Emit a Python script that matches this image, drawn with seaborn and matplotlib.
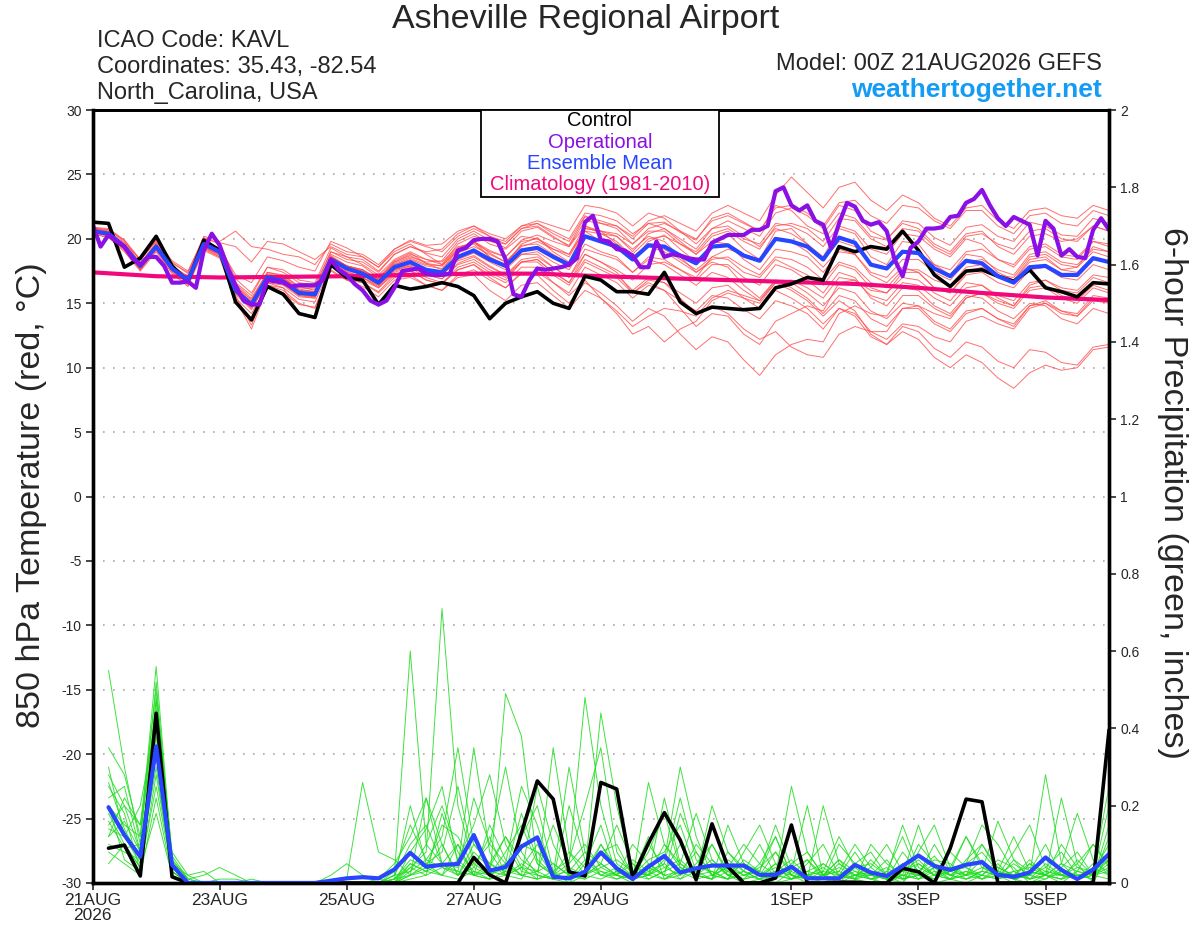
import numpy as np
import pandas as pd
import matplotlib
matplotlib.use("Agg")
import matplotlib.pyplot as plt
from matplotlib.patches import Rectangle
import seaborn as sns

sns.set_style("white")
plt.rcParams['font.family'] = ['Liberation Sans', 'DejaVu Sans']

# forecast hours
hours_6h = np.arange(0, 385, 6)
hours_3h = np.arange(0, 385, 3)
precip_hours = np.arange(6, 385, 6)

# 850 hPa temperature (C), 6-hourly
control_temp = [21.3, 21.2, 17.8, 18.5, 20.2, 17.9, 16.7, 19.9, 19.1, 15.1, 13.7, 16.3, 15.7,
                14.2, 13.9, 18.0, 17.0, 16.8, 14.9, 16.4, 16.1, 16.3, 16.6, 16.3, 15.6, 13.8,
                15.0, 15.5, 15.9, 15.0, 14.6, 17.1, 16.8, 15.9, 15.9, 15.7, 17.4, 15.1, 14.2,
                14.7, 14.6, 14.5, 14.6, 16.2, 16.5, 17.0, 16.8, 19.4, 19.0, 19.4, 19.2, 20.6,
                19.1, 17.2, 16.3, 17.5, 17.6, 17.1, 16.7, 17.6, 16.2, 15.9, 15.5, 16.6, 16.5]
mean_temp = [20.6, 20.4, 19.4, 17.9, 19.4, 17.7, 16.8, 19.6, 19.0, 16.0, 14.9, 17.0, 16.7,
             15.8, 15.7, 18.4, 17.7, 17.3, 16.6, 17.8, 18.2, 17.6, 17.4, 18.6, 19.1, 18.4,
             17.9, 19.1, 19.3, 18.6, 18.0, 20.2, 19.8, 19.4, 18.4, 19.5, 19.4, 18.7, 18.1,
             19.4, 19.5, 18.7, 18.3, 20.0, 19.8, 19.4, 18.4, 20.1, 19.7, 18.0, 17.7, 19.0,
             18.9, 17.7, 17.1, 18.3, 18.1, 17.1, 16.6, 17.8, 17.9, 17.2, 17.2, 18.5, 18.2]
# operational run, 3-hourly
oper_temp = [21.1, 19.4, 20.3, 19.8, 19.4, 18.5, 18.0, 18.6,
             18.6, 17.9, 16.6, 16.6, 16.7, 16.2, 19.1, 20.4,
             19.5, 17.8, 16.4, 15.2, 14.9, 14.9, 16.8, 16.7,
             16.6, 16.3, 16.4, 16.4, 16.4, 16.8, 18.4, 17.6,
             17.2, 16.5, 16.0, 15.2, 14.9, 15.2, 16.2, 17.5,
             17.6, 17.7, 17.3, 17.2, 17.2, 17.3, 19.1, 19.3,
             19.9, 20.0, 20.0, 19.8, 18.4, 15.7, 15.5, 16.8,
             17.7, 17.6, 17.7, 17.8, 18.0, 18.5, 21.3, 21.8,
             19.9, 19.8, 19.2, 19.1, 18.7, 17.8, 17.8, 19.8,
             18.6, 18.8, 18.7, 18.5, 18.4, 18.4, 19.7, 20.0,
             20.3, 20.3, 20.3, 20.7, 20.7, 21.0, 23.7, 24.0,
             22.6, 22.2, 22.6, 21.4, 21.1, 19.3, 21.2, 22.8,
             22.5, 21.4, 21.1, 21.3, 20.6, 18.4, 17.1, 19.3,
             19.8, 20.8, 20.8, 20.9, 21.7, 21.8, 22.8, 23.1,
             23.8, 22.6, 21.6, 21.0, 21.7, 21.4, 21.1, 18.7,
             21.4, 20.8, 18.7, 19.2, 18.6, 18.5, 20.7, 21.6,
             20.7]
# climatology, daily
clim_days = np.arange(17)
clim_temp = [17.4, 17.1, 17.0, 17.05, 17.1, 17.2, 17.3, 17.3, 17.1, 16.95, 16.8, 16.65,
             16.5, 16.2, 15.8, 15.45, 15.25]

member_temp = {
    'm01': [20.8, 20.7, 19.9, 18.3, 19.9, 18.2, 17.3, 20.1, 19.6, 16.9, 15.8, 17.8, 17.4,
            16.6, 16.4, 19.0, 18.6, 18.4, 17.5, 18.8, 19.4, 18.9, 18.6, 20.0, 20.6, 19.9,
            19.3, 20.6, 20.9, 20.1, 19.5, 21.7, 21.4, 21.0, 20.0, 21.2, 21.3, 20.5, 19.9,
            21.6, 22.0, 21.3, 20.6, 22.6, 22.2, 21.0, 20.4, 22.0, 21.6, 20.2, 19.9, 21.4,
            21.2, 20.1, 19.5, 20.9, 21.1, 20.2, 19.8, 21.3, 21.0, 20.3, 20.2, 21.6, 21.2],
    'm02': [20.4, 20.1, 19.0, 17.5, 19.0, 17.3, 16.3, 19.1, 18.5, 15.3, 13.0, 16.2, 15.8,
            14.9, 14.7, 17.5, 16.8, 16.3, 15.5, 16.8, 17.0, 16.4, 16.0, 17.2, 17.6, 16.8,
            16.2, 17.3, 17.4, 16.6, 15.8, 17.8, 17.2, 16.6, 15.4, 16.4, 16.0, 15.2, 14.4,
            15.6, 15.4, 14.5, 13.8, 15.2, 14.8, 14.2, 13.0, 14.6, 14.0, 12.4, 11.8, 13.2,
            12.8, 11.5, 10.8, 12.0, 11.6, 10.5, 10.0, 11.4, 11.2, 10.4, 10.2, 11.6, 11.8],
    'm03': [20.9, 20.5, 19.6, 17.6, 19.6, 17.9, 17.0, 19.3, 18.8, 16.4, 15.2, 17.4, 17.2,
            16.3, 16.0, 18.8, 18.2, 17.9, 17.0, 18.3, 18.9, 18.1, 17.6, 19.2, 19.8, 18.6,
            18.0, 19.6, 20.1, 19.0, 18.2, 20.8, 20.6, 19.6, 18.3, 19.8, 20.3, 19.2, 18.2,
            19.6, 20.4, 19.2, 18.4, 20.6, 20.8, 19.6, 18.6, 20.8, 20.4, 18.6, 18.0, 19.8,
            19.6, 18.0, 17.2, 18.8, 18.6, 17.4, 16.8, 18.4, 18.6, 17.6, 17.8, 19.4, 19.0],
    'm04': [20.5, 20.3, 19.2, 18.0, 19.2, 17.5, 16.6, 19.4, 19.3, 17.2, 16.6, 18.6, 18.3,
            17.8, 17.5, 19.8, 19.3, 18.6, 17.8, 19.0, 19.6, 18.8, 18.0, 19.3, 19.8, 18.9,
            18.2, 19.5, 19.6, 18.8, 18.1, 20.6, 20.4, 20.2, 19.0, 20.4, 20.8, 20.0, 19.2,
            20.8, 21.4, 20.8, 20.2, 22.0, 22.4, 21.8, 20.8, 22.6, 22.2, 20.6, 20.0, 21.2,
            20.8, 19.6, 19.0, 20.4, 20.6, 19.4, 18.8, 20.2, 20.4, 19.8, 20.0, 21.0, 20.6],
    'm05': [20.7, 20.2, 19.3, 17.8, 19.5, 17.6, 16.9, 19.5, 18.8, 15.4, 14.2, 16.4, 16.0,
            15.0, 14.6, 17.6, 16.8, 16.6, 15.9, 17.2, 17.5, 16.8, 16.5, 17.8, 18.2, 17.4,
            16.8, 18.2, 18.4, 17.4, 16.6, 18.8, 18.2, 17.4, 15.8, 16.6, 16.0, 14.6, 13.2,
            14.2, 14.0, 12.6, 11.8, 13.6, 14.2, 14.8, 14.4, 16.6, 16.8, 16.0, 15.8, 17.4,
            17.4, 16.2, 15.8, 17.2, 17.4, 16.6, 16.2, 17.6, 17.8, 17.0, 16.8, 18.0, 17.6],
    'm06': [20.6, 20.5, 19.5, 17.7, 19.3, 17.8, 16.7, 19.8, 19.2, 16.2, 15.0, 17.1, 16.9,
            16.1, 15.9, 18.6, 17.9, 17.6, 16.8, 18.1, 18.6, 18.2, 18.3, 19.8, 20.4, 19.6,
            19.2, 20.2, 20.0, 19.2, 18.8, 20.6, 19.8, 19.2, 18.6, 19.6, 19.2, 18.4, 17.6,
            18.6, 18.4, 17.4, 17.0, 18.4, 17.8, 17.2, 16.4, 18.0, 17.6, 16.2, 15.8, 17.0,
            16.8, 15.8, 15.2, 16.6, 16.4, 15.4, 14.8, 16.2, 16.4, 15.6, 15.2, 16.4, 16.0],
    'm07': [20.5, 20.4, 19.5, 18.1, 19.6, 17.8, 16.9, 19.7, 19.1, 16.1, 15.1, 17.2, 16.9,
            16.0, 15.9, 18.5, 17.9, 17.6, 16.9, 18.2, 18.7, 18.1, 17.9, 19.1, 19.7, 19.0,
            18.6, 19.9, 20.3, 19.8, 19.4, 21.4, 21.2, 21.0, 20.2, 21.4, 21.8, 21.2, 20.6,
            22.0, 22.6, 22.0, 21.4, 23.4, 24.8, 23.6, 22.4, 24.0, 24.4, 23.0, 22.2, 23.4,
            22.8, 21.6, 21.0, 22.4, 22.6, 21.4, 20.8, 22.2, 22.4, 21.8, 21.6, 22.6, 22.2],
    'm08': [20.6, 20.3, 19.2, 17.6, 19.1, 17.4, 16.4, 19.3, 18.6, 15.8, 14.6, 16.6, 16.2,
            14.2, 13.8, 18.0, 17.2, 16.8, 16.2, 17.4, 17.8, 17.0, 16.6, 17.6, 18.0, 17.0,
            16.2, 17.4, 17.2, 16.0, 15.0, 16.6, 15.8, 14.8, 13.6, 14.6, 14.0, 12.6, 11.4,
            12.4, 12.0, 10.6, 9.4, 11.0, 11.8, 12.2, 12.0, 14.2, 14.8, 14.2, 14.0, 15.6,
            15.6, 14.6, 14.0, 15.4, 15.8, 15.0, 14.6, 16.0, 16.2, 15.4, 15.0, 16.2, 15.8],
    'm09': [20.8, 20.5, 19.4, 18.0, 19.5, 17.9, 17.0, 19.6, 18.9, 16.3, 15.3, 17.3, 17.0,
            16.2, 16.1, 18.7, 17.9, 17.4, 16.6, 17.7, 18.1, 17.5, 17.2, 18.4, 18.9, 18.2,
            17.6, 18.8, 19.0, 18.2, 17.6, 19.6, 19.0, 18.6, 17.4, 18.4, 18.0, 17.2, 16.4,
            17.4, 17.0, 16.0, 15.2, 16.6, 16.0, 15.2, 14.0, 15.2, 14.4, 12.6, 11.8, 12.8,
            12.2, 10.8, 10.0, 11.0, 10.4, 9.2, 8.4, 9.6, 10.2, 9.8, 10.0, 11.4, 11.6],
    'm10': [20.7, 20.6, 19.7, 18.4, 19.8, 18.1, 17.4, 20.2, 19.8, 20.6, 19.4, 19.2, 18.8,
            18.6, 18.0, 19.6, 19.0, 18.8, 18.0, 19.2, 19.9, 19.5, 19.6, 20.6, 21.0, 20.2,
            19.6, 20.8, 21.0, 20.2, 19.4, 21.0, 20.4, 19.8, 18.6, 19.4, 19.0, 18.2, 17.4,
            18.4, 18.6, 17.8, 17.2, 18.6, 18.4, 17.8, 16.8, 18.2, 17.8, 16.6, 16.2, 17.6,
            17.6, 16.8, 16.4, 17.8, 18.0, 17.2, 16.8, 18.2, 18.4, 17.6, 17.4, 18.6, 18.2],
    'm11': [20.5, 20.2, 19.1, 17.6, 19.2, 17.6, 16.5, 19.2, 18.6, 15.6, 13.3, 16.4, 16.2,
            15.3, 15.1, 17.9, 17.0, 16.6, 15.8, 17.0, 17.2, 16.4, 16.0, 17.0, 17.2, 16.0,
            15.2, 16.4, 16.6, 15.6, 14.6, 16.0, 15.4, 14.4, 13.2, 14.0, 14.6, 14.4, 14.0,
            15.4, 16.0, 15.6, 15.2, 16.8, 16.6, 15.8, 14.8, 16.2, 15.8, 14.4, 13.8, 15.0,
            14.8, 13.6, 13.0, 14.4, 14.6, 13.8, 13.4, 14.8, 15.0, 14.2, 14.0, 15.2, 15.0],
    'm12': [20.9, 20.7, 19.8, 18.1, 19.7, 17.9, 17.1, 19.9, 19.2, 16.6, 15.6, 17.8, 17.6,
            16.8, 16.6, 19.3, 18.6, 18.0, 17.2, 18.4, 19.0, 18.4, 18.0, 19.6, 20.2, 19.8,
            19.6, 20.8, 21.2, 20.6, 20.0, 22.0, 21.8, 21.4, 20.4, 21.2, 20.8, 19.8, 18.8,
            19.8, 19.6, 18.4, 17.6, 19.2, 19.0, 18.6, 17.4, 19.0, 18.8, 17.4, 17.0, 18.4,
            18.4, 17.4, 16.8, 18.2, 18.4, 17.6, 17.2, 18.8, 19.0, 18.2, 18.0, 19.2, 19.0],
    'm13': [20.4, 20.1, 19.3, 17.9, 19.4, 17.7, 16.8, 19.6, 19.0, 15.9, 14.7, 16.8, 16.5,
            15.6, 15.5, 18.2, 17.6, 17.2, 16.4, 17.6, 18.0, 17.4, 17.2, 18.6, 19.2, 18.4,
            17.8, 19.2, 19.4, 18.6, 17.8, 20.2, 19.8, 19.6, 18.8, 20.0, 20.2, 19.6, 19.0,
            20.4, 20.8, 20.0, 19.6, 21.2, 21.0, 20.4, 19.4, 21.0, 20.6, 19.2, 18.8, 20.4,
            20.2, 19.2, 18.6, 20.0, 19.6, 18.4, 17.8, 19.2, 19.4, 18.6, 18.4, 19.8, 19.4],
    'm14': [20.6, 20.4, 19.4, 17.8, 19.4, 17.6, 16.7, 19.5, 18.9, 16.0, 14.9, 17.0, 16.6,
            15.7, 15.6, 18.3, 17.5, 17.0, 16.2, 17.3, 17.6, 16.8, 16.5, 17.6, 18.0, 17.2,
            16.6, 17.8, 17.8, 16.6, 15.6, 16.8, 15.4, 14.2, 12.6, 13.2, 12.0, 13.0, 13.6,
            15.2, 15.8, 15.4, 15.0, 16.6, 16.8, 16.2, 15.4, 17.0, 16.8, 15.6, 15.2, 16.6,
            16.4, 15.4, 14.8, 16.2, 16.4, 15.6, 15.2, 16.6, 16.8, 16.0, 15.8, 17.0, 16.6],
    'm15': [20.7, 20.4, 19.5, 18.0, 19.6, 17.8, 16.9, 19.8, 19.3, 16.5, 15.4, 17.4, 17.1,
            16.3, 16.2, 19.0, 18.4, 18.2, 17.4, 18.8, 19.4, 19.0, 19.2, 20.4, 21.0, 20.4,
            20.0, 21.0, 21.2, 20.4, 19.8, 21.8, 21.2, 20.8, 19.6, 20.6, 20.6, 19.6, 18.8,
            20.2, 20.6, 19.8, 19.2, 21.0, 21.2, 20.8, 19.8, 21.6, 21.4, 20.0, 19.4, 20.8,
            20.6, 19.4, 18.8, 20.2, 20.4, 19.6, 19.2, 20.6, 20.8, 20.0, 19.8, 21.0, 20.6],
    'm16': [20.5, 20.3, 19.3, 17.7, 19.2, 17.5, 16.6, 19.4, 18.8, 15.7, 14.5, 16.6, 16.4,
            15.5, 15.4, 18.2, 17.4, 17.0, 16.3, 17.5, 17.9, 17.2, 16.9, 18.1, 18.6, 17.8,
            17.2, 18.4, 18.6, 17.8, 17.0, 19.2, 18.8, 18.4, 17.4, 18.6, 18.4, 17.6, 16.8,
            18.0, 18.0, 17.0, 16.4, 18.0, 17.6, 16.8, 15.8, 17.4, 17.0, 15.4, 14.8, 16.2,
            16.0, 14.8, 14.2, 15.6, 15.4, 14.4, 13.8, 15.0, 14.8, 13.8, 13.4, 14.6, 14.2],
    'm17': [20.7, 20.5, 19.6, 18.1, 19.5, 17.7, 16.9, 19.7, 19.0, 16.1, 15.0, 17.2, 16.8,
            15.9, 15.8, 18.6, 17.9, 17.5, 16.8, 18.0, 18.5, 18.0, 17.9, 19.2, 19.8, 19.1,
            18.6, 19.8, 20.0, 19.4, 18.8, 21.0, 20.6, 20.2, 19.2, 20.2, 19.8, 18.6, 17.4,
            18.2, 17.8, 16.4, 15.4, 16.8, 16.2, 15.4, 14.2, 15.6, 15.2, 13.8, 13.2, 14.6,
            14.6, 13.4, 12.8, 14.2, 14.6, 13.8, 13.2, 14.8, 15.2, 14.4, 14.0, 15.4, 15.2],
    'm18': [20.6, 20.4, 19.4, 17.9, 19.5, 17.8, 16.8, 19.7, 19.1, 16.2, 15.1, 17.2, 17.0,
            16.0, 15.9, 18.6, 17.9, 17.6, 16.8, 18.0, 18.4, 17.9, 17.7, 18.9, 19.4, 18.8,
            18.2, 19.4, 19.8, 19.2, 18.6, 20.8, 20.6, 20.4, 19.6, 20.8, 21.2, 20.6, 20.0,
            21.4, 21.8, 21.2, 20.6, 22.4, 22.6, 22.0, 21.0, 22.8, 23.0, 21.8, 21.2, 22.6,
            22.4, 21.4, 20.8, 22.2, 22.2, 21.0, 20.4, 21.8, 22.0, 21.2, 21.0, 22.2, 21.8],
    'm19': [20.8, 20.6, 19.5, 17.8, 19.3, 17.6, 16.6, 19.4, 18.7, 15.9, 14.8, 16.9, 16.6,
            15.7, 15.5, 18.3, 17.8, 17.5, 16.9, 18.2, 18.8, 18.4, 18.2, 19.4, 19.6, 18.6,
            17.8, 18.8, 18.8, 17.8, 17.0, 18.8, 18.2, 17.6, 16.8, 18.0, 18.2, 17.6, 17.0,
            18.6, 19.2, 18.8, 18.4, 20.0, 19.8, 19.0, 17.8, 19.2, 18.8, 17.2, 16.6, 17.8,
            17.4, 16.2, 15.8, 17.4, 17.8, 17.2, 17.0, 18.6, 18.8, 18.0, 17.8, 19.0, 18.6],
    'm20': [20.5, 20.4, 19.3, 17.8, 19.3, 17.6, 16.7, 19.5, 18.9, 16.1, 15.0, 17.1, 16.8,
            15.9, 15.7, 18.4, 17.7, 17.2, 16.5, 17.7, 18.1, 17.5, 17.2, 18.3, 18.7, 17.9,
            17.2, 18.2, 18.2, 17.2, 16.4, 18.2, 17.6, 17.0, 15.8, 16.8, 16.6, 15.8, 15.0,
            16.2, 16.4, 15.4, 14.6, 16.0, 15.4, 14.6, 13.4, 14.6, 14.2, 12.8, 12.2, 13.4,
            13.2, 12.4, 12.0, 13.6, 14.0, 13.4, 13.0, 14.6, 15.0, 14.4, 14.2, 15.6, 15.4],
    'm21': [20.9, 20.8, 19.9, 18.4, 19.9, 18.3, 17.5, 20.0, 19.7, 19.4, 18.2, 19.8, 19.6,
            19.0, 18.4, 19.4, 18.8, 18.6, 17.8, 19.2, 19.8, 19.4, 19.0, 20.2, 20.8, 20.2,
            19.8, 21.0, 21.4, 21.0, 20.6, 22.6, 22.4, 22.0, 21.0, 22.0, 21.6, 20.6, 19.6,
            20.8, 21.0, 20.2, 19.4, 20.8, 20.4, 19.6, 18.4, 19.8, 19.4, 18.0, 17.6, 19.0,
            19.0, 18.0, 17.6, 19.0, 19.2, 18.4, 18.0, 19.4, 19.6, 18.8, 18.6, 19.8, 19.6],
    'm22': [20.6, 20.2, 19.2, 17.7, 19.3, 17.6, 16.6, 19.4, 18.8, 15.9, 14.8, 16.9, 16.5,
            15.6, 15.4, 18.2, 17.4, 17.0, 16.4, 17.6, 17.9, 17.2, 16.9, 18.0, 18.4, 17.6,
            17.0, 18.2, 18.4, 17.4, 16.6, 18.4, 17.8, 17.2, 16.0, 17.0, 16.6, 15.4, 14.2,
            14.8, 14.2, 13.0, 12.2, 12.8, 11.6, 11.0, 10.8, 12.6, 13.2, 12.8, 12.8, 14.6,
            14.8, 14.2, 13.8, 15.4, 15.8, 15.2, 14.8, 16.4, 16.8, 16.2, 16.0, 17.2, 17.0],
}

# 6-hour precipitation (inches), valid 6h..384h
control_precip = [0.09, 0.098, 0.018, 0.439, 0.016, 0, 0, 0, 0, 0, 0, 0, 0, 0, 0, 0,
                  0, 0, 0, 0, 0, 0, 0, 0.066, 0.021, 0, 0.129, 0.264, 0.217, 0.029, 0.018, 0.26,
                  0.243, 0.015, 0.103, 0.182, 0.111, 0.008, 0.153, 0.042, 0, 0, 0.013, 0.15, 0, 0, 0.002, 0.002,
                  0, 0, 0.038, 0.029, 0, 0.09, 0.217, 0.21, 0, 0, 0, 0, 0, 0, 0, 0.396]
mean_precip = [0.196, 0.124, 0.068, 0.353, 0.047, 0, 0, 0, 0, 0, 0, 0, 0, 0, 0.006, 0.012,
               0.015, 0.012, 0.035, 0.078, 0.042, 0.047, 0.049, 0.124, 0.032, 0.041, 0.094, 0.118, 0.016, 0.012, 0.029, 0.079,
               0.038, 0.01, 0.042, 0.07, 0.027, 0.038, 0.045, 0.045, 0.045, 0.021, 0.021, 0.042, 0.012, 0.012, 0.012, 0.047,
               0.027, 0.018, 0.044, 0.071, 0.044, 0.034, 0.047, 0.054, 0.021, 0.016, 0.027, 0.066, 0.034, 0.01, 0.035, 0.075]

member_precip = {
    'p01': [.55, .30, .10, .52, .05, 0, 0, 0, 0, 0, 0, 0, 0, 0, 0, 0,
            0, 0, .02, .60, .10, .05, .02, .10, .05, .02, .12, .20, .03, 0, .05, .15,
            .02, 0, .10, .04, .02, .10, .05, .02, 0, .01, 0, .03, .20, .02, 0, .04,
            .05, .02, 0, .08, .15, .04, .01, .03, .02, 0, .05, .02, 0, .03, .10, .05],
    'p02': [.15, .20, .08, .45, .04, 0, 0, .01, .01, 0, 0, 0, 0, 0, 0, 0,
            0, .01, .05, .12, .22, .10, .02, .05, .02, .08, .15, .05, .02, .01, .03, .08,
            .10, .02, .06, .08, .15, .03, .01, .08, .04, .02, 0, .01, .05, .10, .02, .01,
            0, .03, .12, .02, 0, .01, .06, .10, .03, .01, 0, .02, .22, .05, 0, .08],
    'p03': [.30, .12, .05, .38, .03, 0, 0, 0, 0, 0, 0, 0, 0, 0, 0, 0,
            0, 0, 0, .04, .08, .71, .20, .05, .10, .30, .08, .02, .01, 0, .02, .05,
            .15, .05, .02, .22, .05, .02, .10, .03, .01, .05, .12, .02, 0, .01, .05, .02,
            .01, 0, .02, .15, .03, .01, 0, .02, .06, .04, 0, .01, .03, .02, .01, .12],
    'p04': [.20, .15, .12, .56, .06, .01, .02, .04, .02, 0, 0, 0, 0, 0, 0, .01,
            .26, .08, .06, .02, .04, .02, .01, .03, .01, .02, .04, .01, .02, .03, .08, .02,
            .04, .01, .26, .10, .05, .02, .03, .01, .02, .04, .08, .03, .01, .20, .05, .02,
            .02, .01, 0, .05, .02, .03, .12, .04, .02, .05, .02, .01, .04, .08, .02, .05],
    'p05': [.10, .08, .06, .30, .02, 0, 0, 0, 0, 0, 0, 0, 0, 0, 0, 0,
            0, 0, .03, .15, .06, .12, .35, .10, .05, .03, .18, .06, .02, .08, .04, .02,
            .02, .10, .05, .02, .18, .08, .02, .01, .06, .03, .01, .05, .08, .02, .03, .01,
            .06, .02, .05, .01, .02, .08, .04, .02, .01, .06, .03, .10, .02, .01, .05, .03],
    'p06': [.25, .18, .03, .48, .08, .02, .03, 0, 0, 0, 0, 0, 0, 0, 0, 0,
            0, 0, .01, .20, .05, .02, .10, .02, .01, .49, .38, .05, .02, .01, .06, .02,
            .01, .03, .02, .05, .01, .03, .06, .02, .05, .03, .15, .04, .02, .01, 0, .02,
            .04, .10, .03, .02, .05, .02, .01, .03, .16, .06, .01, .02, .05, .03, .02, .04],
    'p07': [.12, .22, .15, .40, .05, 0, 0, 0, 0, 0, 0, 0, 0, 0, 0, 0,
            0, 0, 0, .02, .03, .05, .04, .35, .08, .02, .04, .10, .02, .05, .48, .20,
            .05, .02, .12, .01, .03, .08, .02, .06, .03, .10, .02, .01, .03, .02, .06, .01,
            .02, .01, .08, .03, .01, .04, .02, .06, .02, .01, .03, .02, .01, .06, .02, .01],
    'p08': [.18, .10, .04, .25, .03, 0, 0, 0, 0, .01, 0, 0, 0, 0, 0, 0,
            0, 0, .02, .03, .06, .04, .03, .02, .15, .06, .02, .03, .05, .02, .01, .03,
            .02, .05, .01, .03, .10, .02, .01, .15, .05, .02, .08, .02, .06, .01, .02, .05,
            .08, .02, .01, .03, .07, .02, .05, .08, .03, .01, .02, .04, .08, .02, .03, .25],
    'p09': [.08, .05, .02, .22, .02, 0, 0, 0, 0, 0, 0, 0, 0, 0, 0, 0,
            0, 0, .01, .02, .22, .05, .10, .02, .01, .03, .02, .01, .35, .08, .02, .01,
            .03, .01, .02, .06, .30, .12, .02, .01, .03, .02, .05, .01, .02, .04, .01, .02,
            .01, .03, .02, .01, .04, .02, .01, .02, .05, .01, .02, .28, .05, .01, .02, .03],
    'p10': [.22, .25, .08, .35, .04, 0, 0, 0, 0, 0, 0, 0, 0, 0, .02, .05,
            .02, .01, 0, .05, .03, .10, .02, .04, .12, .02, .01, .08, .02, .30, .08, .05,
            .02, .01, .05, .02, .03, .01, .02, .04, .02, .01, .03, .02, .01, .05, .02, .08,
            .02, .06, .01, .02, .10, .03, .04, .01, .02, .03, .01, .05, .02, .01, .04, .02],
    'p11': [.14, .12, .20, .42, .03, 0, 0, 0, 0, 0, 0, 0, 0, 0, 0, 0,
            0, 0, 0, .08, .14, .25, .05, .02, .03, .05, .02, .25, .10, .02, .01, .10,
            .04, .02, .08, .18, .04, .02, .01, .05, .02, .03, .12, .02, .01, .03, .02, .01,
            .03, .01, .05, .02, .01, .03, .02, .10, .04, .02, .01, .03, .02, .02, .03, .10],
    'p12': [.26, .14, .06, .44, .05, .02, 0, 0, 0, 0, 0, 0, 0, 0, 0, 0,
            0, 0, .01, .04, .02, .18, .06, .02, .05, .12, .04, .03, .01, .02, .03, .44,
            .20, .03, .02, .01, .04, .02, .05, .03, .01, .02, .04, .01, .02, .03, .12, .04,
            .01, .02, .03, .05, .02, .01, .03, .02, .01, .03, .04, .02, .01, .02, .01, .15],
    'p13': [.05, .10, .04, .18, .02, 0, 0, 0, 0, 0, 0, 0, 0, 0, 0, 0,
            0, 0, 0, .02, .05, .08, .25, .06, .03, .02, .05, .02, .01, .20, .06, .03,
            .01, .02, .04, .02, .01, .05, .10, .02, .03, .01, .02, .25, .08, .02, .01, .03,
            .02, .04, .01, .10, .05, .02, .03, .01, .04, .02, .06, .02, .01, .03, .02, .20],
    'p14': [.28, .20, .15, .50, .06, .01, 0, 0, 0, 0, 0, 0, 0, 0, 0, 0,
            0, 0, .02, .10, .15, .05, .03, .22, .10, .05, .02, .01, .03, .06, .20, .35,
            .08, .02, .01, .03, .05, .18, .06, .02, .01, .02, .03, .06, .02, .01, .10, .05,
            .02, .01, .03, .06, .02, .04, .12, .05, .01, .02, .03, .02, .05, .18, .06, .02],
    'p15': [.16, .09, .10, .33, .04, 0, 0, 0, 0, 0, 0, 0, 0, 0, 0, 0,
            0, 0, 0, .03, .10, .20, .08, .03, .02, .04, .10, .08, .05, .02, .03, .10,
            .03, .01, .03, .05, .22, .06, .02, .04, .10, .05, .02, .01, .03, .05, .02, .01,
            .10, .05, .02, .01, .03, .02, .05, .15, .10, .03, .01, .02, .10, .04, .02, .06],
    'p16': [.20, .06, .03, .28, .03, 0, 0, 0, 0, 0, 0, 0, 0, 0, 0, 0,
            0, 0, .01, .05, .03, .02, .06, .15, .28, .10, .03, .02, .01, .04, .02, .05,
            .02, .06, .03, .01, .02, .04, .03, .01, .08, .15, .05, .02, .01, .02, .04, .02,
            .03, .02, .15, .04, .02, .01, .02, .03, .02, .08, .15, .04, .02, .01, .02, .08],
    'p17': [.35, .28, .12, .47, .07, .01, 0, 0, 0, 0, 0, 0, 0, 0, 0, 0,
            0, 0, .01, .06, .04, .15, .12, .04, .02, .05, .25, .15, .02, .01, .02, .04,
            .06, .03, .02, .10, .04, .02, .01, .03, .05, .02, .01, .04, .06, .02, .03, .10,
            .04, .01, .02, .03, .06, .05, .02, .01, .03, .02, .05, .03, .02, .04, .03, .06],
    'p18': [.12, .16, .08, .36, .04, 0, 0, 0, 0, 0, 0, 0, 0, 0, 0, 0,
            0, 0, 0, .01, .02, .04, .02, .08, .04, .12, .06, .03, .15, .05, .10, .04,
            .02, .01, .02, .04, .06, .02, .20, .08, .03, .01, .05, .02, .01, .02, .06, .03,
            .01, .02, .01, .02, .04, .01, .02, .04, .03, .12, .03, .02, .02, .05, .10, .04],
}

for k, v in member_temp.items():
    assert len(v) == len(hours_6h), (k, len(v))
for k, v in member_precip.items():
    assert len(v) == len(precip_hours), (k, len(v))
assert len(oper_temp) == len(hours_3h)
assert len(control_temp) == len(hours_6h) and len(mean_temp) == len(hours_6h)
assert len(control_precip) == len(precip_hours) and len(mean_precip) == len(precip_hours)

# long-form tables for seaborn
temp_members = pd.concat([pd.DataFrame({'hour': hours_6h, 'value': v, 'member': k})
                          for k, v in member_temp.items()])
precip_members = pd.concat([pd.DataFrame({'hour': precip_hours, 'value': v, 'member': k})
                            for k, v in member_precip.items()])

RED = '#ff4b4b'
GREEN = '#1fdc1f'
BLUE = '#2846ff'
PURPLE = '#8a10e6'
PINK = '#f0087c'

fig = plt.figure(figsize=(12, 9.27), dpi=100)
ax = fig.add_axes([0.0772, 0.0475, 0.847, 0.8338])
ax2 = ax.twinx()

sns.lineplot(data=temp_members, x='hour', y='value', units='member', estimator=None,
             color=RED, lw=0.7, alpha=0.8, ax=ax, legend=False)
sns.lineplot(x=clim_days * 24, y=clim_temp, color=PINK, lw=3, ax=ax)
sns.lineplot(x=hours_6h, y=control_temp, color='black', lw=2.6, ax=ax)
sns.lineplot(x=hours_6h, y=mean_temp, color=BLUE, lw=3, ax=ax)
sns.lineplot(x=hours_3h, y=oper_temp, color=PURPLE, lw=3, ax=ax)

sns.lineplot(data=precip_members, x='hour', y='value', units='member', estimator=None,
             color=GREEN, lw=0.7, alpha=0.85, ax=ax2, legend=False)
sns.lineplot(x=precip_hours, y=control_precip, color='black', lw=2.6, ax=ax2)
sns.lineplot(x=precip_hours, y=mean_precip, color=BLUE, lw=3, ax=ax2)

ax.set_xlim(0, 384)
ax.set_ylim(-30, 30)
ax2.set_ylim(0, 2)

ax.set_yticks(np.arange(-30, 31, 5))
ax.set_yticklabels([str(v) for v in range(-30, 31, 5)], fontsize=10)
ax2.set_yticks(np.arange(0, 2.01, 0.2))
ax2.set_yticklabels(['%g' % round(v, 1) for v in np.arange(0, 2.01, 0.2)], fontsize=10)

tick_days = [0, 2, 4, 6, 8, 11, 13, 15]
tick_labels = ['21AUG\n2026', '23AUG', '25AUG', '27AUG', '29AUG', '1SEP', '3SEP', '5SEP']
ax.set_xticks([d * 24 for d in tick_days])
ax.set_xticklabels(tick_labels, fontsize=12.5, linespacing=1.0)

for gy in range(-25, 30, 5):
    ax.axhline(gy, color='#a8a8a8', lw=1.2, ls=(0, (1, 5)), zorder=0)

ax.tick_params(axis='y', direction='out', length=5, width=1.2, pad=3, left=True)
ax2.tick_params(axis='y', direction='out', length=5, width=1.2, pad=3, right=True)
ax.tick_params(axis='x', direction='out', length=5, width=1.2, pad=2, bottom=True)
ax.set_xlabel('')
ax.set_ylabel('')
ax2.set_ylabel('')
for a in (ax, ax2):
    for side in ('left', 'right', 'bottom'):
        a.spines[side].set_linewidth(2.4)
        a.spines[side].set_color('black')
    a.spines['top'].set_linewidth(2.0)
    a.spines['top'].set_color('black')

# legend box
box = Rectangle((0.382, 0.8875), 0.234, 0.1125, transform=ax2.transAxes,
                facecolor='white', edgecolor='black', lw=1.3, zorder=20)
ax2.add_patch(box)
legend_items = [('Control', 'black'), ('Operational', PURPLE),
                ('Ensemble Mean', BLUE), ('Climatology (1981-2010)', PINK)]
for k, (txt, col) in enumerate(legend_items):
    ax2.text(0.499, 0.986 - k * 0.0275, txt, color=col, fontsize=14.5, ha='center',
             va='center', transform=ax2.transAxes, zorder=21)

# header texts
fig.text(0.488, 0.979, 'Asheville Regional Airport', fontsize=24.5, ha='center', va='center')
fig.text(0.081, 0.956, 'ICAO Code: KAVL', fontsize=17, ha='left', va='center')
fig.text(0.081, 0.928, 'Coordinates: 35.43, -82.54', fontsize=17, ha='left', va='center')
fig.text(0.081, 0.900, 'North_Carolina, USA', fontsize=17, ha='left', va='center')
fig.text(0.918, 0.931, 'Model: 00Z 21AUG2026 GEFS', fontsize=17, ha='right', va='center')
fig.text(0.918, 0.903, 'weathertogether.net', fontsize=19, ha='right', va='center',
         color='#149cf5', fontweight='bold')

fig.text(0.026, 0.466, '850 hPa Temperature (red, °C)', fontsize=24.5, rotation=90,
         ha='center', va='center')
fig.text(0.977, 0.468, '6-hour Precipitation (green, inches)', fontsize=24.5, rotation=-90,
         ha='center', va='center')

fig.savefig('out.png', dpi=100)
